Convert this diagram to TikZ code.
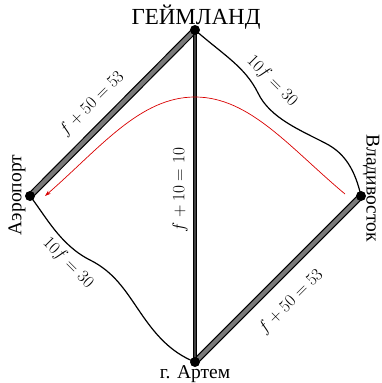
\documentclass[tikz,border=0pt]{standalone}
\usepackage{fontspec}
\setmainfont{Liberation Serif}
\usetikzlibrary{arrows.meta}
\tikzset{
  city/.style={circle,fill=black,inner sep=0pt,minimum size=10pt},
  road/.style={draw=black,line width=1.2pt,double=gray!95!black,double distance=4.2pt},
  mainroad/.style={draw=black,line width=0.85pt,double=black!75,double distance=1.9pt},
  wavy/.style={draw=black,line width=1.2pt},
  route/.style={draw=red!85!black,line width=0.7pt,-{Stealth[length=6pt,width=4pt]}},
  eqlabel/.style={font=\fontsize{17.28}{20}\selectfont,inner sep=1pt},
  townlabel/.style={font=\fontsize{19.5}{22}\selectfont,inner sep=0pt},
}
\begin{document}
\begin{tikzpicture}[x=1pt,y=-1pt]
\useasboundingbox (0,0) rectangle (382,383);
\coordinate (G) at (195,30);
\coordinate (A) at (30,196);
\coordinate (V) at (361,196);
\coordinate (R) at (195,362);
% roads
\draw[road] (A) -- (G);
\draw[road] (R) -- (V);
\draw[mainroad] (G) -- (R);
% wavy roads
\draw[wavy] (G) .. controls (225,56) and (245,67) .. (258,93)
  .. controls (270,118) and (300,130) .. (325,143)
  .. controls (345,153) and (355,170) .. (V);
\draw[wavy] (A) .. controls (45,215) and (60,245) .. (90,260)
  .. controls (114,272) and (125,290) .. (140,312)
  .. controls (155,334) and (170,352) .. (R);
% route
\coordinate (rs) at (345,194);
\coordinate (re) at (45,196);
\draw[route] (rs) .. controls (290,148) and (250,97) .. (195,97)
  .. controls (140,97) and (100,148) .. (re);
% cities
\node[city] (g) at (G) {};
\node[city] (a) at (A) {};
\node[city] (v) at (V) {};
\node[city] (r) at (R) {};
% labels
\node[townlabel,font=\fontsize{23}{26}\selectfont] (tg) at (196,17) {ГЕЙМЛАНД};
\node[townlabel,rotate=90] (ta) at (17,195) {Аэропорт};
\node[townlabel,rotate=-90] (tv) at (371,188) {Владивосток};
\node[townlabel] (tr) at (195,374) {г. Артем};
\node[eqlabel,rotate=45] (l1) at (92,104) {$f+50=53$};
\node[eqlabel,rotate=45] (l2) at (291,302) {$f+50=53$};
\node[eqlabel,rotate=90] (l3) at (180,190) {$f+10=10$};
\node[eqlabel,rotate=-45] (l4) at (272,81) {$10f=30$};
\node[eqlabel,rotate=-45] (l5) at (68,263) {$10f=30$};
\end{tikzpicture}
\end{document}
